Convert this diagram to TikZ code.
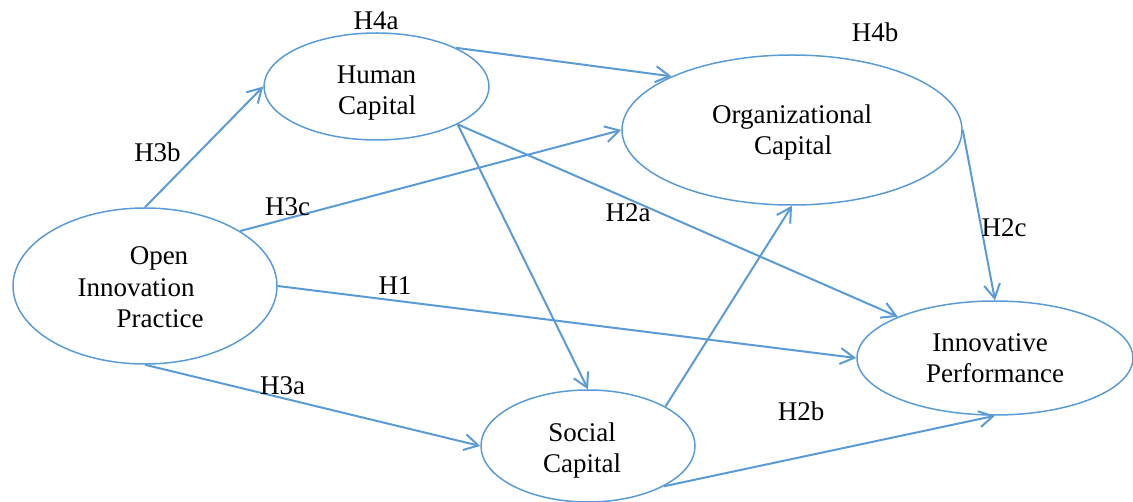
\documentclass[tikz,border=0pt]{standalone}
\usepackage{fontspec}
\setmainfont{Liberation Serif}
\usetikzlibrary{shapes.geometric,arrows.meta}
\definecolor{edgeblue}{HTML}{5B9BD5}
\begin{document}
\begin{tikzpicture}[x=1pt,y=-1pt,
  construct/.style={ellipse, draw=edgeblue, line width=1.5pt, inner sep=0pt},
  words/.style={anchor=base, inner sep=0pt, font=\fontsize{27}{31}\selectfont},
  link/.style={draw=edgeblue, line width=2pt,
    -{Straight Barb[length=14pt,width=16pt]}},
]
\useasboundingbox (0,0) rectangle (1133,502);

% constructs
\node[construct, minimum width=264pt, minimum height=156pt] (oip) at (145,286) {};
\node[construct, minimum width=225pt, minimum height=107pt] (hc) at (376.5,86.5) {};
\node[construct, minimum width=340pt, minimum height=150pt] (oc) at (792,130) {};
\node[construct, minimum width=276pt, minimum height=114pt] (ip) at (995,358) {};
\node[construct, minimum width=214pt, minimum height=112pt] (sc) at (588,446) {};

% construct names
\node[words] (oip-1) at (159,265) {Open};
\node[words] (oip-2) at (136,297) {Innovation};
\node[words] (oip-3) at (160,328) {Practice};
\node[words] (hc-1) at (376.5,84) {Human};
\node[words] (hc-2) at (377,115) {Capital};
\node[words] (oc-1) at (792,123.5) {Organizational};
\node[words] (oc-2) at (793,155) {Capital};
\node[words] (ip-1) at (990,351.5) {Innovative};
\node[words] (ip-2) at (995,383) {Performance};
\node[words] (sc-1) at (582,441.5) {Social};
\node[words] (sc-2) at (582,473) {Capital};

% hypothesised paths
\draw[link] (oip.90) -- (hc.180);
\draw[link] (oip.30.5) -- (oc.180);
\draw[link] (oip.0) -- (ip.180);
\draw[link] (oip.270) -- (sc.180);
\draw[link] (hc.26.4) -- (oc.156.5);
\draw[link] (hc.-25.3) -- (ip.157.3);
\draw[link] (hc.-25.3) -- (sc.90);
\draw[link] (sc.27.5) -- (oc.270);
\draw[link] (sc.-28) -- (ip.270);
\draw[link] (oc.0) -- (ip.90);

% hypothesis labels
\node[words] (l-h4a) at (376,30) {H4a};
\node[words] (l-h4b) at (875,41.5) {H4b};
\node[words] (l-h3b) at (157.5,161.5) {H3b};
\node[words] (l-h3c) at (287.5,215.5) {H3c};
\node[words] (l-h2a) at (628,222) {H2a};
\node[words] (l-h2c) at (1004,236.5) {H2c};
\node[words] (l-h1) at (395,295) {H1};
\node[words] (l-h3a) at (282.5,395) {H3a};
\node[words] (l-h2b) at (801,421) {H2b};
\end{tikzpicture}
\end{document}
